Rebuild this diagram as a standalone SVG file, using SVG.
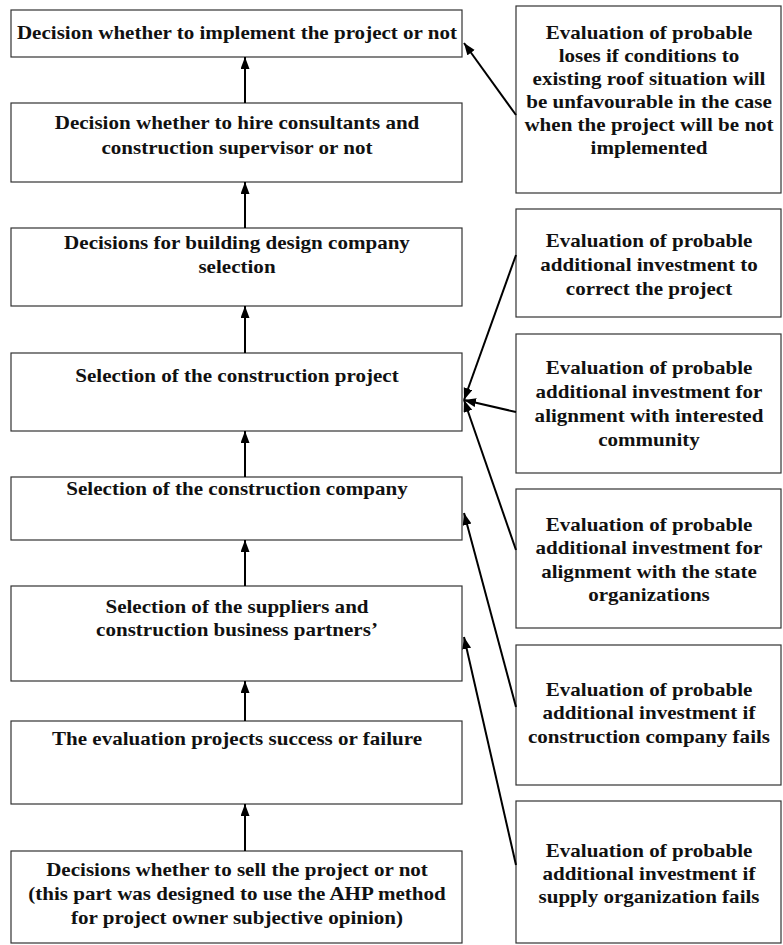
<svg xmlns="http://www.w3.org/2000/svg" width="783" height="945" viewBox="0 0 783 945">
<style>
.box{fill:#fff;stroke:#333;stroke-width:1.2}
.t{font-family:"Liberation Serif","Times New Roman",serif;font-weight:bold;font-size:18px;fill:#111;text-anchor:middle}
.c{stroke:#000;stroke-width:2;fill:none;marker-end:url(#ah)}
</style>
<defs>
<marker id="ah" markerUnits="userSpaceOnUse" markerWidth="13" markerHeight="10" refX="12" refY="4.5" orient="auto">
<path d="M0,0 L12,4.5 L0,9 z" fill="#000"/>
</marker>
</defs>
<rect width="783" height="945" fill="#fff"/>
<g id="n1"><rect class="box" x="11" y="10" width="451" height="47"/>
<text class="t" transform="translate(237 0) scale(1.17 1)"><tspan x="0" y="39">Decision whether to implement the project or not</tspan></text></g>
<g id="n2"><rect class="box" x="11" y="103" width="451" height="79"/>
<text class="t" transform="translate(237 0) scale(1.17 1)"><tspan x="0" y="129">Decision whether to hire consultants and</tspan><tspan x="0" y="154">construction supervisor or not</tspan></text></g>
<g id="n3"><rect class="box" x="11" y="228" width="451" height="78"/>
<text class="t" transform="translate(237 0) scale(1.17 1)"><tspan x="0" y="249">Decisions for building design company</tspan><tspan x="0" y="273">selection</tspan></text></g>
<g id="n4"><rect class="box" x="11" y="353" width="451" height="78"/>
<text class="t" transform="translate(237 0) scale(1.17 1)"><tspan x="0" y="382">Selection of the construction project</tspan></text></g>
<g id="n5"><rect class="box" x="11" y="477" width="451" height="63"/>
<text class="t" transform="translate(237 0) scale(1.17 1)"><tspan x="0" y="495">Selection of the construction company</tspan></text></g>
<g id="n6"><rect class="box" x="11" y="586" width="451" height="95"/>
<text class="t" transform="translate(237 0) scale(1.17 1)"><tspan x="0" y="613">Selection of the suppliers and</tspan><tspan x="0" y="636">construction business partners’</tspan></text></g>
<g id="n7"><rect class="box" x="11" y="721" width="451" height="83"/>
<text class="t" transform="translate(237 0) scale(1.17 1)"><tspan x="0" y="745">The evaluation projects success or failure</tspan></text></g>
<g id="n8"><rect class="box" x="11" y="851" width="451" height="92"/>
<text class="t" transform="translate(237 0) scale(1.17 1)"><tspan x="0" y="876">Decisions whether to sell the project or not</tspan><tspan x="0" y="900">(this part was designed to use the AHP method</tspan><tspan x="0" y="924">for project owner subjective opinion)</tspan></text></g>
<g id="r1"><rect class="box" x="516" y="6" width="265" height="187"/>
<text class="t" transform="translate(649 0) scale(1.17 1)"><tspan x="0" y="39">Evaluation of probable</tspan><tspan x="0" y="62">loses if conditions to</tspan><tspan x="0" y="85">existing roof situation will</tspan><tspan x="0" y="108">be unfavourable in the case</tspan><tspan x="0" y="131">when the project will be not</tspan><tspan x="0" y="154">implemented</tspan></text></g>
<g id="r2"><rect class="box" x="516" y="209" width="265" height="108"/>
<text class="t" transform="translate(649 0) scale(1.17 1)"><tspan x="0" y="247">Evaluation of probable</tspan><tspan x="0" y="271">additional investment to</tspan><tspan x="0" y="295">correct the project</tspan></text></g>
<g id="r3"><rect class="box" x="516" y="334" width="265" height="139"/>
<text class="t" transform="translate(649 0) scale(1.17 1)"><tspan x="0" y="374">Evaluation of probable</tspan><tspan x="0" y="398">additional investment for</tspan><tspan x="0" y="422">alignment with interested</tspan><tspan x="0" y="446">community</tspan></text></g>
<g id="r4"><rect class="box" x="516" y="489" width="265" height="139"/>
<text class="t" transform="translate(649 0) scale(1.17 1)"><tspan x="0" y="531">Evaluation of probable</tspan><tspan x="0" y="554">additional investment for</tspan><tspan x="0" y="578">alignment with the state</tspan><tspan x="0" y="601">organizations</tspan></text></g>
<g id="r5"><rect class="box" x="516" y="645" width="265" height="140"/>
<text class="t" transform="translate(649 0) scale(1.17 1)"><tspan x="0" y="696">Evaluation of probable</tspan><tspan x="0" y="719">additional investment if</tspan><tspan x="0" y="743">construction company fails</tspan></text></g>
<g id="r6"><rect class="box" x="516" y="801" width="265" height="142"/>
<text class="t" transform="translate(649 0) scale(1.17 1)"><tspan x="0" y="857">Evaluation of probable</tspan><tspan x="0" y="880">additional investment if</tspan><tspan x="0" y="903">supply organization fails</tspan></text></g>
<g id="connectors">
<line class="c" x1="245" y1="103" x2="245" y2="57"/>
<line class="c" x1="245" y1="228" x2="245" y2="182"/>
<line class="c" x1="245" y1="353" x2="245" y2="306"/>
<line class="c" x1="245" y1="477" x2="245" y2="431"/>
<line class="c" x1="245" y1="586" x2="245" y2="540"/>
<line class="c" x1="245" y1="721" x2="245" y2="681"/>
<line class="c" x1="245" y1="851" x2="245" y2="804"/>
<line class="c" x1="516" y1="115" x2="464" y2="43"/>
<line class="c" x1="516" y1="255" x2="464" y2="400"/>
<line class="c" x1="516" y1="412" x2="464" y2="400"/>
<line class="c" x1="516" y1="550" x2="464" y2="400"/>
<line class="c" x1="516" y1="707" x2="464" y2="513"/>
<line class="c" x1="516" y1="865" x2="464" y2="637"/>
</g>
</svg>
